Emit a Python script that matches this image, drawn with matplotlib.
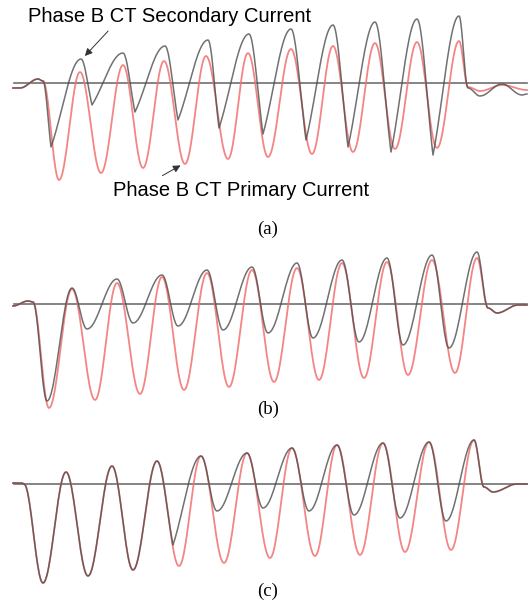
import numpy as np
import matplotlib
matplotlib.use("Agg")
import matplotlib.pyplot as plt

# knots: (time sample, amplitude) at the extremes of each half cycle
# panel (a)
a_t_pri = [13, 20, 38, 43, 59, 80, 101, 123, 143, 164, 185, 206, 228, 248, 268, 291, 312, 333, 353, 375, 395, 417, 437, 459, 468, 480, 502, 527]
a_pri = [-5, -5, 4, 2, -97, 11, -90, 18, -85, 22, -81, 27, -76, 30, -74, 34, -71, 37, -69, 40, -66, 41, -65, 42, -4, -8, -2, -7]
a_t_sec = [13, 20, 38, 43, 51, 81, 92, 123, 135, 165, 178, 208, 219, 249, 263, 291, 306, 333, 348, 375, 391, 417, 433, 459, 468, 480, 502, 522, 527]
a_sec = [-5, -5, 4, 2, -64, 24, -22, 30, -29, 37, -37, 43, -45, 49, -51, 54, -57, 58, -64, 61, -69, 64, -72, 67, -5, -13, -1, -12, -11]

# panel (b)
b_t_pri = [13, 28, 33, 49, 72, 95, 117, 140, 162, 184, 207, 229, 252, 274, 297, 319, 342, 364, 387, 408, 432, 455, 477, 488, 497, 518, 527]
b_pri = [-2, 3, 2, -104, 15, -96, 21, -90, 27, -86, 31, -83, 34, -78, 36, -76, 41, -74, 42, -71, 44, -69, 46, -4, -9, -1, -1]
b_t_sec = [13, 28, 33, 47, 72, 87, 117, 133, 162, 178, 207, 223, 252, 268, 297, 313, 342, 359, 387, 403, 432, 449, 477, 488, 497, 518, 527]
b_sec = [-2, 3, 2, -97, 16, -25, 25, -19, 29, -22, 34, -26, 37, -29, 41, -34, 44, -38, 46, -41, 49, -44, 52, -4, -9, -1, -1]

# panel (c)
c_t_pri = [13, 22, 24, 43, 66, 88, 112, 133, 157, 179, 201, 224, 247, 270, 292, 315, 337, 360, 383, 405, 429, 451, 474, 484, 493, 517, 527]
c_pri = [1, 1, 0, -99, 12, -92, 18, -86, 23, -82, 28, -79, 31, -74, 36, -72, 39, -71, 41, -68, 42, -66, 44, -3, -8, 0, 0]
c_t_sec = [13, 22, 24, 43, 66, 88, 112, 133, 157, 173, 201, 217, 247, 263, 292, 309, 337, 354, 383, 400, 429, 446, 474, 484, 493, 517, 527]
c_sec = [1, 1, 0, -99, 12, -92, 18, -86, 23, -61, 28, -27, 31, -24, 36, -27, 39, -31, 41, -34, 42, -37, 44, -3, -8, 0, 0]

panel_labels = ["(a)", "(b)", "(c)"]
sec_label = "Phase B CT Secondary Current"
pri_label = "Phase B CT Primary Current"

RED = "#f27070"
GRAY = "#4d4d4d"


def smooth(t, y, n=24, sharp=None, k=0.6):
    # half-cosine easing between the read extremes;
    # indices in `sharp` get a pointed trough (saturated CT)
    sharp = sharp or set()
    xs, ys = [], []
    for i in range(len(t) - 1):
        s = np.linspace(0, 1, n, endpoint=False)
        w = (1 - np.cos(np.pi * s)) / 2
        if i + 1 in sharp:
            w = k * (1 - np.cos(np.pi / 2 * s)) + (1 - k) * w
        elif i in sharp:
            w = k * np.sin(np.pi / 2 * s) + (1 - k) * w
        xs.append(t[i] + (t[i + 1] - t[i]) * s)
        ys.append(y[i] + (y[i + 1] - y[i]) * w)
    xs.append([t[-1]])
    ys.append([y[-1]])
    return np.concatenate(xs), np.concatenate(ys)


W, H = 530, 607
fig = plt.figure(figsize=(W / 100, H / 100), dpi=100)

# (top row, bottom row, zero row) in pixels for each panel
rows = [(0, 200, 83), (230, 415, 304), (425, 600, 484)]
data = [(a_t_pri, a_pri, a_t_sec, a_sec, set(range(4, 23, 2))),
        (b_t_pri, b_pri, b_t_sec, b_sec, set()),
        (c_t_pri, c_pri, c_t_sec, c_sec, {9})]
axes = []
for (top, bot, zero), (tp, yp, ts, ys, sh) in zip(rows, data):
    ax = fig.add_axes([0, 1 - bot / H, 1, (bot - top) / H])
    ax.set_xlim(0, W)
    ax.set_ylim(zero - bot, zero - top)
    ax.axis("off")
    ax.plot([14, 527], [0, 0], color="#707070", lw=1.2, zorder=1)
    x, y = smooth(tp, yp)
    ax.plot(x, y, color=RED, lw=1.3, alpha=0.85, zorder=2)
    x, y = smooth(ts, ys, sharp=sh)
    ax.plot(x, y, color=GRAY, lw=1.1, alpha=0.8, zorder=3)
    axes.append(ax)

# panel labels
for lab, ypix in zip(panel_labels, [229, 409, 591]):
    fig.text(268 / W, 1 - ypix / H, lab, ha="center", va="center",
             family="Liberation Serif", fontsize=13.5)

# annotations on panel (a)
ax = axes[0]
ax.text(170, 83 - 16, sec_label, ha="center", va="center",
        family="Liberation Sans", fontsize=14.5, clip_on=False)
ax.annotate("", xy=(83, 83 - 58), xytext=(110, 83 - 29),
            arrowprops=dict(arrowstyle="-|>", color="#333333", lw=0.7, mutation_scale=11))
ax.text(241, 83 - 191, pri_label, ha="center", va="center",
        family="Liberation Sans", fontsize=14.5, clip_on=False)
ax.annotate("", xy=(183, 83 - 164), xytext=(160, 83 - 177),
            arrowprops=dict(arrowstyle="-|>", color="#333333", lw=0.7, mutation_scale=11))

fig.savefig("out.png", dpi=100, facecolor="white")
